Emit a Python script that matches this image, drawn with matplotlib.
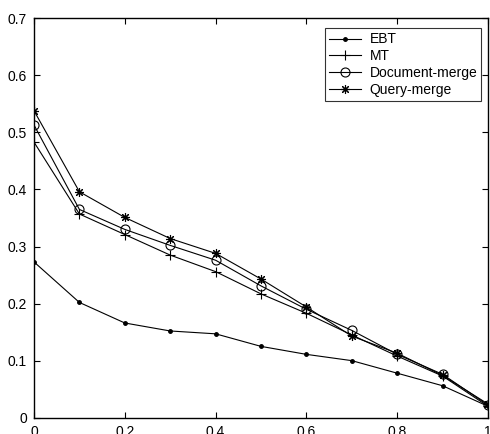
import matplotlib
matplotlib.use("Agg")
import matplotlib.pyplot as plt

# recall levels and precision values
x = [0, 0.1, 0.2, 0.3, 0.4, 0.5, 0.6, 0.7, 0.8, 0.9, 1.0]
ebt = [0.273, 0.202, 0.166, 0.152, 0.147, 0.125, 0.111, 0.100, 0.078, 0.056, 0.020]
mt = [0.483, 0.357, 0.321, 0.285, 0.256, 0.217, 0.183, 0.145, 0.108, 0.073, 0.020]
doc_merge = [0.513, 0.365, 0.330, 0.302, 0.276, 0.231, 0.190, 0.153, 0.111, 0.076, 0.022]
query_merge = [0.538, 0.396, 0.351, 0.314, 0.288, 0.243, 0.194, 0.143, 0.113, 0.074, 0.024]

plt.rcParams['font.family'] = ['Liberation Sans', 'DejaVu Sans']
plt.rcParams['font.size'] = 10

fig = plt.figure(figsize=(4.9, 4.34), dpi=100)
ax = fig.add_axes([34 / 490, 16.3 / 434, 454 / 490, 399.4 / 434])

lw = 0.8
ax.plot(x, ebt, color='black', lw=lw, marker='.', markersize=5, label='EBT')
ax.plot(x, mt, color='black', lw=lw, marker='+', markersize=7, markeredgewidth=0.8, label='MT')
ax.plot(x, doc_merge, color='black', lw=lw, marker='o', markersize=6.5, markerfacecolor='none',
        markeredgewidth=0.8, label='Document-merge')
# matlab style asterisk: 8 spokes
ax.plot(x, query_merge, color='black', lw=lw, marker=(8, 2, 0), markersize=6.5, markeredgewidth=0.8,
        label='Query-merge')

ax.set_xlim(0, 1)
ax.set_ylim(0, 0.7)
ax.set_xticks([0, 0.2, 0.4, 0.6, 0.8, 1])
ax.set_xticklabels(['0', '0.2', '0.4', '0.6', '0.8', '1'])
ax.set_yticks([0, 0.1, 0.2, 0.3, 0.4, 0.5, 0.6, 0.7])
ax.set_yticklabels(['0', '0.1', '0.2', '0.3', '0.4', '0.5', '0.6', '0.7'])
ax.tick_params(direction='in', top=True, right=True, length=4, width=0.8, pad=5)
for s in ax.spines.values():
    s.set_linewidth(1.0)

leg = ax.legend(loc='upper right', bbox_to_anchor=(0.9855, 0.975), frameon=True, fancybox=False,
                edgecolor='black', handlelength=2.3, handletextpad=0.6, borderpad=0.3,
                labelspacing=0.2, borderaxespad=0)
leg.get_frame().set_linewidth(0.8)

fig.savefig('out.png', dpi=100)
